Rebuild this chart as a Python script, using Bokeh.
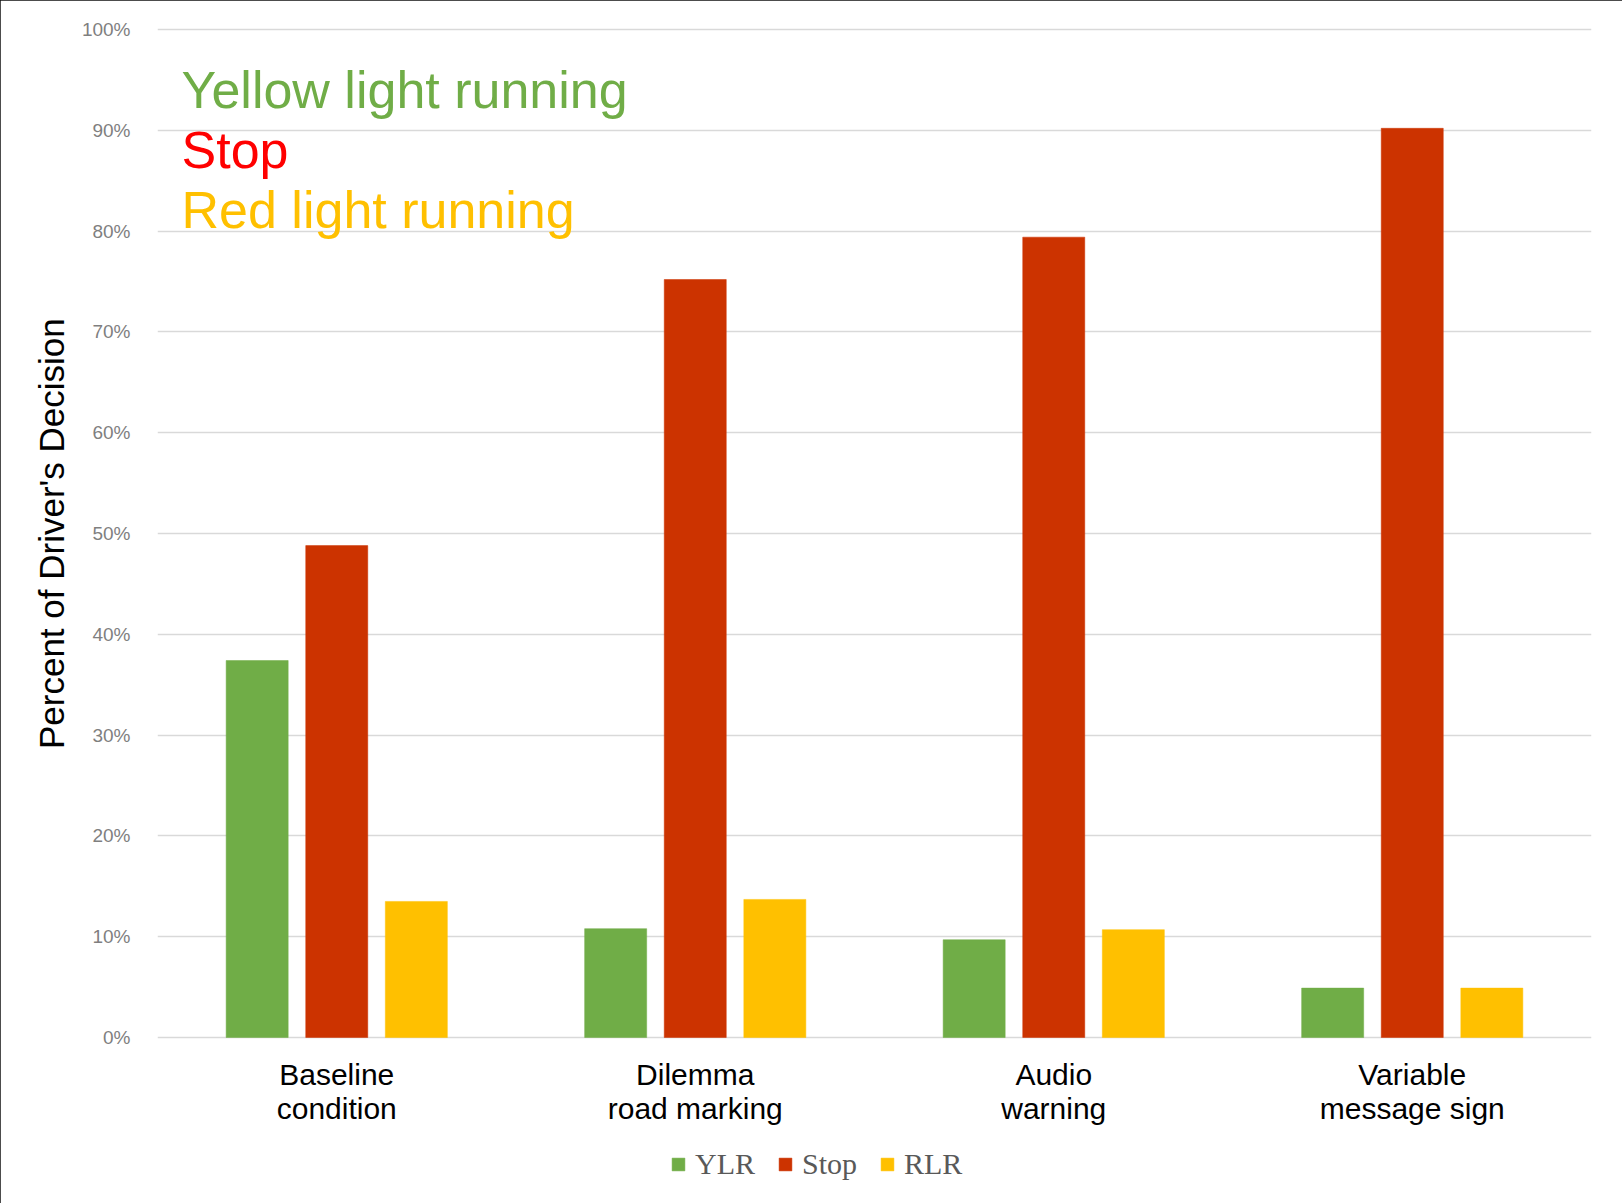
from bokeh.plotting import figure
from bokeh.models import (ColumnDataSource, FactorRange, Range1d, Legend, LegendItem,
                          Label, NumeralTickFormatter, FixedTicker)
from bokeh.core.properties import value
from bokeh.transform import dodge
from bokeh.embed import file_html
from bokeh.resources import INLINE

# Experimental conditions (two-line labels under each group)
conditions = ["Baseline\ncondition", "Dilemma\nroad marking", "Audio\nwarning", "Variable\nmessage sign"]

# Share of drivers' decisions per condition
ylr = [0.374, 0.108, 0.097, 0.049]    # yellow light running
stop = [0.488, 0.752, 0.794, 0.902]   # stop
rlr = [0.135, 0.137, 0.107, 0.049]    # red light running

series_keys = ["ylr", "stop", "rlr"]
series_names = ["YLR", "Stop", "RLR"]
series_colors = ["#70AD47", "#CC3300", "#FFC000"]

y_ticks = [0.0, 0.1, 0.2, 0.3, 0.4, 0.5, 0.6, 0.7, 0.8, 0.9, 1.0]
y_title = "Percent of Driver's Decision"

note_lines = ["Yellow light running", "Stop", "Red light running"]
note_colors = ["#70AD47", "#FF0000", "#FFC000"]

source = ColumnDataSource(data=dict(
    cond=conditions, ylr=ylr, stop=stop, rlr=rlr,
    line1=[c.split("\n")[0] for c in conditions],
    line2=[c.split("\n")[1] for c in conditions],
))

# The frame reaches below zero so that the group labels and the key sit inside it
p = figure(
    x_range=FactorRange(factors=conditions),
    y_range=Range1d(-0.15673, 1.002),
    frame_width=1434, frame_height=1168,
    min_border_left=157, min_border_right=31, min_border_top=27, min_border_bottom=8,
    output_backend="svg", toolbar_location=None,
    background_fill_color="white", border_fill_color="white",
)
p.styles = {"outline": "4px solid #111111", "outline-offset": "-4px"}
p.outline_line_color = None

bar_width = 0.173
offsets = [-0.222, 0.0, 0.222]
renderers = []
for key, color, off in zip(series_keys, series_colors, offsets):
    r = p.vbar(x=dodge("cond", off, range=p.x_range), top=key, width=bar_width,
               source=source, fill_color=color, line_color=color, line_width=0.5)
    renderers.append(r)

# Group labels under the baseline
for col, yy in (("line1", -0.0362), ("line2", -0.0704)):
    p.text(x="cond", y=yy, text=col, source=source,
           text_font=value("Liberation Sans"), text_font_size="30px",
           text_color="black", text_align="center", text_baseline="middle")

# Axes
p.xaxis.visible = False
p.xgrid.grid_line_color = None
p.ygrid.grid_line_color = "#D9D9D9"
p.ygrid.grid_line_width = 1.5
p.yaxis.ticker = FixedTicker(ticks=y_ticks)
p.yaxis.formatter = NumeralTickFormatter(format="0%")
p.yaxis.axis_line_color = None
p.yaxis.major_tick_line_color = None
p.yaxis.minor_tick_line_color = None
p.yaxis.major_label_text_font = "Liberation Sans"
p.yaxis.major_label_text_font_size = "19px"
p.yaxis.major_label_text_color = "#7F7F7F"
p.yaxis.major_label_standoff = 21
# leading no-break spaces lift the title so it centres on the 0-100% span
p.yaxis.axis_label = "\u00a0" * 16 + y_title
p.yaxis.axis_label_text_font = "Liberation Sans"
p.yaxis.axis_label_text_font_size = "35px"
p.yaxis.axis_label_text_font_style = "normal"
p.yaxis.axis_label_text_color = "black"
p.yaxis.axis_label_standoff = 8

# Colour key written inside the plot area
note_y = [0.940, 0.880, 0.821]
for txt, col, yy in zip(note_lines, note_colors, note_y):
    p.add_layout(Label(x=0.067, y=yy, text=txt, text_color=col,
                       text_font="Liberation Sans", text_font_size="52px",
                       text_baseline="alphabetic", text_align="left"))

# Series legend centred at the bottom
legend = Legend(
    items=[LegendItem(label=n, renderers=[r]) for n, r in zip(series_names, renderers)],
    orientation="horizontal", location=(513, 14),
    label_text_font="Liberation Serif", label_text_font_size="30px",
    label_text_color="#595959",
    glyph_width=16, glyph_height=16, label_standoff=9, spacing=22,
    border_line_color=None, background_fill_alpha=0, padding=0, margin=0,
)
p.add_layout(legend, "center")

open("out.html", "w").write(file_html(p, INLINE))
